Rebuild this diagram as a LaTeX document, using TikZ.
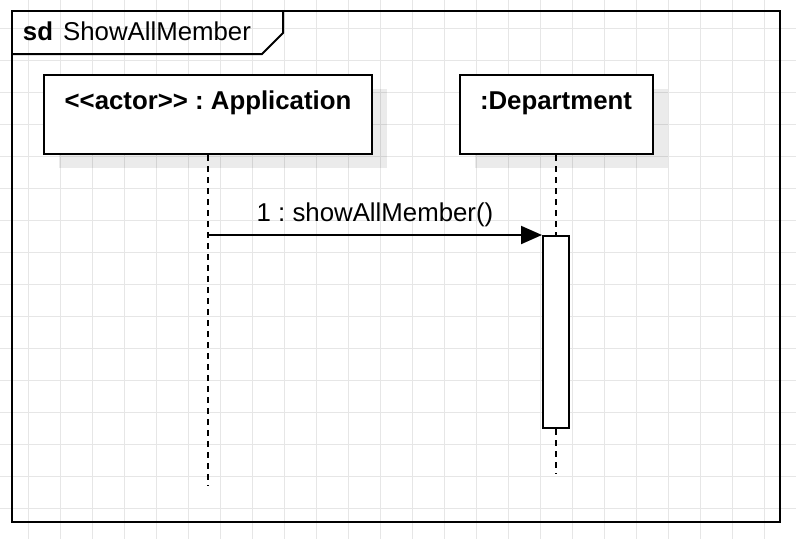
\documentclass[tikz,border=0pt]{standalone}
\usepackage{fontspec}
\setmainfont{Liberation Sans}
\frenchspacing
\usetikzlibrary{arrows.meta, positioning, shadows}
\definecolor{cgrid}{HTML}{E6E6E6}
\definecolor{cink}{HTML}{000000}
\tikzset{
  every picture/.style={font=\fontsize{25.8}{31}\selectfont, line width=2pt},
  gridline/.style={draw=cgrid, line width=0.8pt},
  frame/.style={draw=cink, line width=2pt},
  lifebox/.style={draw=cink, fill=white, anchor=north, inner xsep=0pt, inner ysep=0pt,
                  text height=34pt, text depth=45pt, font=\fontsize{25.8}{31}\selectfont\bfseries,
                  drop shadow={shadow xshift=15pt, shadow yshift=-14pt, fill=black, opacity=.08}},
  actbox/.style={draw=cink, fill=white, anchor=north, inner sep=0pt, minimum width=26pt, minimum height=192pt},
  lifeline/.style={draw=cink, line width=2.2pt, dash pattern=on 6pt off 5pt},
  msg/.style={draw=cink, -{Triangle[length=21pt, width=18pt]}},
}

\begin{document}
\begin{tikzpicture}[x=1pt, y=-1pt]
  \useasboundingbox[fill=white] (0,0) rectangle (796,539);
  % background grid
  \foreach \gx in {28,60,...,796} \draw[gridline] (\gx,0) -- (\gx,539);
  \foreach \gy in {28,60,...,539} \draw[gridline] (0,\gy) -- (796,\gy);
  % sequence frame
  \draw[frame] (12,11) rectangle (780,522);
  \draw[frame] (12,54) -- (262,54) -- (283,33) -- (283,11);
  \node[anchor=base west, inner sep=0pt] (title) at (22,40) {\textbf{sd}\hspace{10pt}ShowAllMember};
  % lifelines
  \node[lifebox, minimum width=328pt] (app) at (208,74) {<{}<actor>{}> : Application};
  \node[lifebox, minimum width=193pt] (dept) at (556,74) {:Department};
  \node[actbox] (act) at (556,235) {};
  \coordinate (append) at (208,486);
  \coordinate (deptend) at (556,474);
  \draw[lifeline] (app.south) -- (append);
  \draw[lifeline] (dept.south) -- (act.north);
  \draw[lifeline] (act.south) -- (deptend);
  % message
  \draw[msg] (app.south |- act.north) -- (act.north west)
    node[midway, anchor=base, yshift=14pt] (m1) {1 : showAllMember()};
\end{tikzpicture}
\end{document}
